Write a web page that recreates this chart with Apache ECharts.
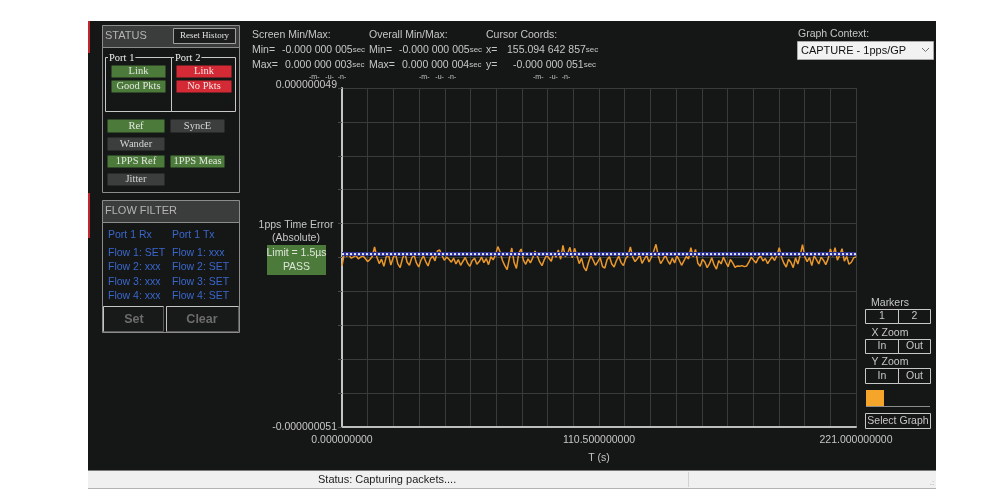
<!DOCTYPE html>
<html>
<head>
<meta charset="utf-8">
<title>1pps Time Error</title>
<script src="https://cdn.jsdelivr.net/npm/echarts@6.0.0/dist/echarts.min.js"></script>
<style>
  html, body { margin: 0; padding: 0; background: #fff; }
  #main { width: 1005px; height: 496px; }
</style>
</head>
<body>
<div id="main"></div>
<script>
// time error samples, ns, one per second
var timeErrorNs = [
  -3.5, 0.2, -0.6, -0.3, -1.2, -0.8, -0.4, -1.4, -0.9, -0.5,
  -1.3, -2.2, -1.6, -0.7, 2.1, -0.9, -2.8, -1.5, -3.6, -0.8,
  -0.2, -3.2, -1.0, 0.1, -2.9, -4.0, -1.3, 0.4, -2.4, -3.3,
  -1.1, -0.3, -2.6, -3.8, -1.7, -0.5, -2.2, -3.5, -1.4, -0.6,
  -2.0, 0.9, 1.2, -0.4, -1.8, -0.9, -1.5, -2.4, -1.2, -2.9,
  -1.6, -3.3, -2.1, -1.0, -2.7, -3.6, -1.9, -1.2, -3.0, -2.2,
  -0.9, -2.5, -1.3, -3.1, -0.8, -1.7, -0.2, 2.2, 0.6, -1.9,
  -3.4, -4.6, -1.2, 1.8, -2.5, -4.2, 0.3, 1.5, -1.8, -3.0,
  -1.4, -2.6, -1.1, 0.9, -0.6, -2.3, -3.4, -1.6, -0.3, -1.2,
  -2.1, 0.4, -0.9, 1.2, -1.5, 2.6, -0.7, 0.2, 2.0, -1.1,
  1.7, -0.5, -2.8, -1.2, -3.9, -4.9, -2.4, -0.4, -1.8, -3.3,
  -2.2, -1.0, -3.7, -4.1, -1.6, -0.8, -2.9, -3.8, -1.9, -0.6,
  -2.5, -3.4, -1.3, -0.5, 2.1, -0.9, -2.2, -1.4, -0.2, -2.7,
  -1.5, -0.4, -2.3, -1.0, 0.8, 2.9, -0.6, -2.8, -1.7, -0.3,
  -1.9, -3.0, -1.2, -2.6, -0.5, -1.8, -3.3, -2.0, -0.7, -1.4,
  1.9, -0.8, 1.4, -2.7, -3.6, -1.5, -2.3, -4.0, -2.8, -1.1,
  -3.2, -4.4, -1.9, -2.9, -0.9, -2.4, -3.7, -1.6, -2.6, -3.9,
  -3.5, -3.6, -3.4, -3.7, -3.5, -2.3, -0.9, -1.8, -2.6, -1.2,
  -0.6, -2.0, -1.3, -2.8, -1.7, -0.8, -1.9, -0.4, 1.9, -1.0,
  -2.7, -3.8, -1.5, -2.4, -4.0, -1.1, -2.9, -0.3, 2.8, -0.8,
  -2.2, -1.0, -3.4, -0.5, -1.6, -2.9, -0.9, -1.8, -3.1, -1.4,
  1.5, -0.6, 1.9, -1.8, -0.3, 1.6, -2.1, -0.7, -3.0, -2.4,
  -1.1, -0.8
];
var samplePeriodSec = 1;
var refLevelNs = 0;
var refSpanSec = [0, 221];

// axes
var xMinSec = 0, xMaxSec = 221, xStepSec = 11.05;
var yMinNs = -51, yMaxNs = 49;
var xTickLabels = ['0.000000000', '110.500000000', '221.000000000'];
var xTickValues = [0, 110.5, 221];
var yTickLabels = ['-0.000000051', '0.000000049'];

var BG = '#151616';
var GRID = '#393a3a';
var TXT = '#c6c6c6';
var GREEN = '#4b7a3b';
var RED = '#d42a35';
var GRAYBTN = '#3c3d3d';
var BLUE = '#3a67cc';
var SANS = 'Liberation Sans';
var SERIF = 'Liberation Serif';

var graphics = [];

function rect(x, y, w, h, fill, stroke, z) {
  graphics.push({
    type: 'rect', z: z == null ? -10 : z, silent: true,
    shape: { x: x, y: y, width: w, height: h },
    style: { fill: fill || 'none', stroke: stroke || 'none', lineWidth: 1 }
  });
}
function line(x1, y1, x2, y2, color, z) {
  graphics.push({
    type: 'line', z: z == null ? -5 : z, silent: true,
    shape: { x1: x1, y1: y1, x2: x2, y2: y2 },
    style: { stroke: color, lineWidth: 1 }
  });
}
function text(x, y, str, size, color, opts) {
  opts = opts || {};
  var st = {
    text: str,
    fill: color,
    font: (opts.weight || 'normal') + ' ' + size + 'px "' + (opts.family || SANS) + '"',
    textAlign: opts.align || 'left',
    textVerticalAlign: 'middle'
  };
  if (opts.bg) { st.backgroundColor = opts.bg; st.padding = [0, 1]; }
  if (opts.rich) st.rich = opts.rich;
  graphics.push({ type: 'text', z: 5, silent: true, x: x, y: y, style: st });
}
function button(x, y, w, h, label, fill, color, size, family, stroke) {
  rect(x + 0.5, y + 0.5, w, h, fill, stroke || 'none', -4);
  text(x + w / 2 + 0.5, y + h / 2 + 0.5, label, size, color, { align: 'center', family: family });
}

// dark app window + status bar
rect(88, 21, 848, 449, BG, null, -20);
rect(88, 21, 2, 32, '#c1272d', null, -19);
rect(88, 193, 2, 45, '#c1272d', null, -19);
rect(88, 470, 848, 19, '#f0f0f0', null, -19);
line(88, 470.5, 936, 470.5, '#7a7a7a');
line(88, 488.5, 936, 488.5, '#b4b4b4');
line(688.5, 472, 688.5, 487, '#d2d2d2');
text(318, 480, 'Status: Capturing packets....', 11, '#1c1c1c');
text(932, 483, '.:', 8, '#9a9a9a', { align: 'center' });

// STATUS panel
rect(102.5, 25.5, 137, 22, '#3b3c3c', '#8c8c8c', -8);
rect(102.5, 47.5, 137, 145, 'none', '#8c8c8c', -8);
text(105, 36, 'STATUS', 11, '#b4b4b4');
button(173, 28, 62, 15, 'Reset History', '#1d1e1e', '#e4e4e4', 9, SERIF, '#a0a0a0');
rect(105.5, 57.5, 66, 54, 'none', '#c8c8c8', -8);
rect(171.5, 57.5, 64, 54, 'none', '#c8c8c8', -8);
text(108, 58, 'Port 1', 10.5, '#f0f0f0', { family: SERIF, bg: BG });
text(174, 58, 'Port 2', 10.5, '#f0f0f0', { family: SERIF, bg: BG });
button(111, 65, 54, 12, 'Link', GREEN, '#e4e8e0', 10.5, SERIF);
button(111, 80, 54, 12, 'Good Pkts', GREEN, '#e4e8e0', 10.5, SERIF);
button(176, 65, 55, 12, 'Link', RED, '#f4e4e4', 10.5, SERIF);
button(176, 80, 55, 12, 'No Pkts', RED, '#f4e4e4', 10.5, SERIF);
button(107, 119, 57, 13, 'Ref', GREEN, '#e4e8e0', 10.5, SERIF);
button(170, 119, 54, 13, 'SyncE', GRAYBTN, '#d6d6d6', 10.5, SERIF);
button(107, 137, 57, 13, 'Wander', GRAYBTN, '#d6d6d6', 10.5, SERIF);
button(107, 155, 57, 12, '1PPS Ref', GREEN, '#e4e8e0', 10.5, SERIF);
button(170, 155, 54, 12, '1PPS Meas', GREEN, '#e4e8e0', 10.5, SERIF);
button(107, 173, 57, 12, 'Jitter', GRAYBTN, '#d6d6d6', 10.5, SERIF);

// FLOW FILTER panel
rect(102.5, 200.5, 137, 22, '#3b3c3c', '#8c8c8c', -8);
rect(102.5, 222.5, 137, 110, 'none', '#8c8c8c', -8);
text(105, 211, 'FLOW FILTER', 11, '#b4b4b4');
var flowRows = [235, 253, 267, 282, 296];
var flowLeft = ['Port 1 Rx', 'Flow 1: SET', 'Flow 2: xxx', 'Flow 3: xxx', 'Flow 4: xxx'];
var flowRight = ['Port 1 Tx', 'Flow 1: xxx', 'Flow 2: SET', 'Flow 3: SET', 'Flow 4: SET'];
flowRows.forEach(function (y, i) {
  text(108, y, flowLeft[i], 10.5, BLUE);
  text(172, y, flowRight[i], 10.5, BLUE);
});
rect(103.5, 306.5, 60, 25, '#181919', '#5a5a5a', -8);
rect(166.5, 306.5, 72, 25, '#181919', '#5a5a5a', -8);
line(103.5, 306.5, 163.5, 306.5, '#c4c4c4');
line(103.5, 306.5, 103.5, 331.5, '#c4c4c4');
line(166.5, 306.5, 238.5, 306.5, '#c4c4c4');
line(166.5, 306.5, 166.5, 331.5, '#c4c4c4');
text(134, 320, 'Set', 12.5, '#6c6c6c', { align: 'center', weight: 'bold' });
text(202, 320, 'Clear', 12.5, '#6c6c6c', { align: 'center', weight: 'bold' });

// readouts above the plot
var secRich = { v: { fontSize: 10.5, fontFamily: SANS, color: TXT }, s: { fontSize: 8, fontFamily: SANS, color: TXT } };
function readout(x, y, val) {
  text(x, y, '{v|' + val + '}{s|sec}', 10.5, TXT, { rich: secRich });
}
text(252, 35, 'Screen Min/Max:', 10.5, TXT);
text(369, 35, 'Overall Min/Max:', 10.5, TXT);
text(486, 35, 'Cursor Coords:', 10.5, TXT);
text(252, 50, 'Min=', 10.5, TXT);
readout(282, 50, '-0.000 000 005');
text(369, 50, 'Min=', 10.5, TXT);
readout(399, 50, '-0.000 000 005');
text(486, 50, 'x=', 10.5, TXT);
readout(507, 50, '155.094 642 857');
text(252, 65, 'Max=', 10.5, TXT);
readout(285, 65, '0.000 000 003');
text(369, 65, 'Max=', 10.5, TXT);
readout(402, 65, '0.000 000 004');
text(486, 65, 'y=', 10.5, TXT);
readout(513, 65, '-0.000 000 051');
[309, 419, 533].forEach(function (x) {
  text(x, 77.5, '-m-   -u-  -n-', 7, TXT);
});

// graph context selector
text(798, 34, 'Graph Context:', 10.5, TXT);
rect(797.5, 41.5, 136, 18, '#f2f2f2', '#a8a8a8', -8);
text(801, 50.5, 'CAPTURE - 1pps/GP', 11, '#111');
graphics.push({
  type: 'polyline', z: 5, silent: true,
  shape: { points: [[922, 48], [925.5, 51.5], [929, 48]] },
  style: { stroke: '#707070', fill: 'none', lineWidth: 1 }
});

// y label + limit box
text(296, 225, '1pps Time Error', 10.5, TXT, { align: 'center' });
text(296, 238.5, '(Absolute)', 10.5, TXT, { align: 'center' });
rect(267, 245, 59, 30, GREEN, null, -8);
text(296.5, 253.5, 'Limit = 1.5\u00b5s', 10.5, '#dfe6d8', { align: 'center' });
text(296.5, 267, 'PASS', 10.5, '#dfe6d8', { align: 'center' });

// right side controls
var BTN = '#c8c8c8';
text(890, 303, 'Markers', 10.5, TXT, { align: 'center' });
button(865, 309, 33, 14, '1', 'none', TXT, 10.5, SANS, BTN);
button(898, 309, 32, 14, '2', 'none', TXT, 10.5, SANS, BTN);
text(890, 333, 'X Zoom', 10.5, TXT, { align: 'center' });
button(865, 339, 33, 14, 'In', 'none', TXT, 10.5, SANS, BTN);
button(898, 339, 32, 14, 'Out', 'none', TXT, 10.5, SANS, BTN);
text(890, 362, 'Y Zoom', 10.5, TXT, { align: 'center' });
button(865, 368, 33, 15, 'In', 'none', TXT, 10.5, SANS, BTN);
button(898, 368, 32, 15, 'Out', 'none', TXT, 10.5, SANS, BTN);
rect(866, 390, 18, 16, '#f5a52a', null, -8);
line(866, 406.5, 930, 406.5, '#8c8c8c');
button(865, 413, 65, 15, 'Select Graph', 'none', TXT, 10.5, SANS, BTN);

// series data
var tracePoints = timeErrorNs.map(function (v, i) { return [i * samplePeriodSec, v]; });
var refPoints = refSpanSec.map(function (t) { return [t, refLevelNs]; });

function near(a, b) { return Math.abs(a - b) < 1e-6; }

var chart = echarts.init(document.getElementById('main'), null, { renderer: 'canvas' });
chart.setOption({
  backgroundColor: '#ffffff',
  animation: false,
  grid: { left: 342, top: 88, width: 514, height: 339, containLabel: false },
  xAxis: [
    {
      type: 'value', min: xMinSec, max: xMaxSec, interval: xStepSec,
      axisLine: { lineStyle: { color: '#bdbdbd', width: 2 } },
      axisTick: { show: false },
      splitLine: { lineStyle: { color: GRID, width: 1 } },
      axisLabel: {
        color: TXT, fontSize: 10.5, fontFamily: SANS, margin: 8,
        showMinLabel: true, showMaxLabel: true,
        formatter: function (v) {
          for (var i = 0; i < xTickValues.length; i++) {
            if (near(v, xTickValues[i])) return xTickLabels[i];
          }
          return '';
        }
      },
      name: 'T (s)', nameLocation: 'middle', nameGap: 26,
      nameTextStyle: { color: TXT, fontSize: 10.5, fontFamily: SANS }
    },
    {
      type: 'value', min: xMinSec, max: xMaxSec, interval: xStepSec * 2, position: 'bottom',
      axisLine: { show: false },
      axisTick: { show: true, length: 3, lineStyle: { color: '#5a5a5a' } },
      axisLabel: { show: false },
      splitLine: { show: false }
    }
  ],
  yAxis: [
    {
      type: 'value', min: 0, max: 100, interval: 10,
      axisLine: { show: true, lineStyle: { color: '#c4c4c4', width: 2 } },
      axisTick: { show: true, length: 4, lineStyle: { color: '#4a4a4a' } },
      axisLabel: { show: false },
      splitLine: { lineStyle: { color: GRID, width: 1 } }
    },
    {
      type: 'value', min: yMinNs, max: yMaxNs, position: 'left',
      axisLine: { show: false },
      axisTick: { show: false },
      splitLine: { show: false },
      axisLabel: {
        color: TXT, fontSize: 10.5, fontFamily: SANS, margin: 5, lineHeight: 6,
        showMinLabel: true, showMaxLabel: true,
        formatter: function (v) {
          if (near(v, yMaxNs)) return yTickLabels[1] + '\n ';
          if (near(v, yMinNs)) return yTickLabels[0];
          return '';
        }
      }
    }
  ],
  series: [
    {
      name: 'time error', type: 'line', yAxisIndex: 1, data: tracePoints,
      symbol: 'none', silent: true, z: 3,
      lineStyle: { color: '#ea982c', width: 1.5 }
    },
    {
      name: 'ref', type: 'line', yAxisIndex: 1, data: refPoints,
      symbol: 'none', silent: true, z: 4,
      lineStyle: { color: '#2e3290', width: 4 }
    },
    {
      name: 'ref dash', type: 'line', yAxisIndex: 1, data: refPoints,
      symbol: 'none', silent: true, z: 5,
      lineStyle: { color: '#e6e6f2', width: 2, type: [2, 2] }
    }
  ],
  graphic: graphics
});
</script>
</body>
</html>
